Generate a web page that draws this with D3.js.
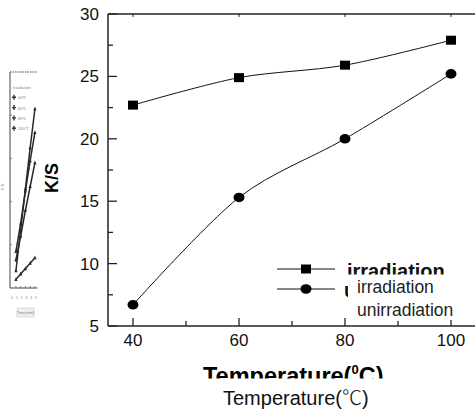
<!DOCTYPE html>
<html><head><meta charset="utf-8">
<script src="https://cdn.jsdelivr.net/npm/d3@7"></script>
<style>body{margin:0;background:#fff}svg{display:block}</style>
</head><body>
<script>
// ---- data ----
const temps = [40, 60, 80, 100];
const irradiation = [22.7, 24.9, 25.9, 27.9];
const unirradiation = [6.7, 15.3, 20.0, 25.2];
const xTicks = [40, 60, 80, 100];
const yTicks = [5, 10, 15, 20, 25, 30];
const seriesNames = ["irradiation", "unirradiation"];
// small embedded thumbnail chart on the left
const insetX = [1, 2, 3, 4, 5];
const insetA = [8, 27, 46, 65, 83];
const insetB = [17, 30, 45, 59, 72];
const insetC = [13, 24, 36, 47, 58];
const insetD = [4, 6.5, 9, 11.5, 14];
const insetLegend = ["Irradiation", "40℃", "60℃", "80℃", "100℃"];

const W = 475, H = 410;
const svg = d3.select("body").append("svg").attr("width", W).attr("height", H);
const F = "Arial, 'Liberation Sans', Helvetica, sans-serif";

// ---- main scales ----
const x = d3.scaleLinear().domain([40, 100]).range([133, 451]);
const y = d3.scaleLinear().domain([5, 30]).range([326, 14]);
const x0 = x.invert(108), x1 = x.invert(480);
const pL = x(x0), pR = x(x1), pT = y(30), pB = y(5);

const g = svg.append("g");
const ax = "#222";
// frame
g.append("line").attr("x1", pL).attr("x2", pL).attr("y1", pT).attr("y2", pB).attr("stroke", ax).attr("stroke-width", 1.5);
g.append("line").attr("x1", pL).attr("x2", pR).attr("y1", pB).attr("y2", pB).attr("stroke", ax).attr("stroke-width", 1.5);
g.append("line").attr("x1", pL).attr("x2", pR).attr("y1", pT).attr("y2", pT).attr("stroke", ax).attr("stroke-width", 1.3);

// y ticks (inward)
const yMinor = d3.range(7.5, 30, 5);
yTicks.forEach(v => g.append("line").attr("x1", pL).attr("x2", pL + 9).attr("y1", y(v)).attr("y2", y(v)).attr("stroke", ax).attr("stroke-width", 1.3));
yMinor.forEach(v => g.append("line").attr("x1", pL).attr("x2", pL + 5).attr("y1", y(v)).attr("y2", y(v)).attr("stroke", ax).attr("stroke-width", 1.3));
g.selectAll(".yl").data(yTicks).enter().append("text")
  .attr("x", 99).attr("y", d => y(d) + 6).attr("text-anchor", "end")
  .attr("font-family", F).attr("font-size", 17).attr("fill", "#111").text(d => d);

// x ticks (inward)
const xMinor = [50, 70, 90];
xTicks.forEach(v => {
  g.append("line").attr("x1", x(v)).attr("x2", x(v)).attr("y1", pB).attr("y2", pB - 8).attr("stroke", ax).attr("stroke-width", 1.3);
  g.append("line").attr("x1", x(v)).attr("x2", x(v)).attr("y1", pT).attr("y2", pT + 3).attr("stroke", ax).attr("stroke-width", 1);
});
xMinor.forEach(v => {
  g.append("line").attr("x1", x(v)).attr("x2", x(v)).attr("y1", pB).attr("y2", pB - 5).attr("stroke", ax).attr("stroke-width", 1.3);
});
g.selectAll(".xl").data(xTicks).enter().append("text")
  .attr("x", d => x(d)).attr("y", 346).attr("text-anchor", "middle")
  .attr("font-family", F).attr("font-size", 17).attr("fill", "#111").text(d => d);

// series
const line = d3.line().x((d, i) => x(temps[i])).y(d => y(d)).curve(d3.curveCardinal.tension(0.1));
g.append("path").attr("d", line(irradiation)).attr("fill", "none").attr("stroke", "#111").attr("stroke-width", 1);
g.append("path").attr("d", line(unirradiation)).attr("fill", "none").attr("stroke", "#111").attr("stroke-width", 1);
g.selectAll(".sq").data(irradiation).enter().append("rect")
  .attr("x", (d, i) => x(temps[i]) - 5).attr("y", d => y(d) - 4.5).attr("width", 10).attr("height", 9).attr("fill", "#000");
g.selectAll(".ci").data(unirradiation).enter().append("ellipse")
  .attr("cx", (d, i) => x(temps[i])).attr("cy", d => y(d)).attr("rx", 5.5).attr("ry", 4.8).attr("fill", "#000");

// legend
g.append("line").attr("x1", 277).attr("x2", 335).attr("y1", 269).attr("y2", 269).attr("stroke", "#111").attr("stroke-width", 1);
g.append("rect").attr("x", 301).attr("y", 264.5).attr("width", 10).attr("height", 9).attr("fill", "#000");
g.append("line").attr("x1", 277).attr("x2", 335).attr("y1", 289).attr("y2", 289).attr("stroke", "#111").attr("stroke-width", 1);
g.append("ellipse").attr("cx", 306).attr("cy", 289).attr("rx", 5.5).attr("ry", 4.8).attr("fill", "#000");
g.append("text").attr("x", 347).attr("y", 278).attr("font-family", F).attr("font-weight", "bold").attr("font-size", 20).attr("fill", "#111").text(seriesNames[0]);
g.append("text").attr("x", 344).attr("y", 297).attr("font-family", F).attr("font-weight", "bold").attr("font-size", 20).attr("fill", "#111").text(seriesNames[1]);
// overlay white box
g.append("rect").attr("x", 348).attr("y", 274.5).attr("width", 127).attr("height", 45.5).attr("fill", "#fff");
g.append("text").attr("x", 357).attr("y", 293).attr("font-family", F).attr("font-size", 17.5).attr("fill", "#222").text(seriesNames[0]);
g.append("text").attr("x", 357).attr("y", 316).attr("font-family", F).attr("font-size", 17.5).attr("fill", "#222").text(seriesNames[1]);

// y title
svg.append("text").attr("transform", "translate(58,178) rotate(-90)").attr("text-anchor", "middle")
  .attr("font-family", F).attr("font-weight", "bold").attr("font-size", 18).attr("fill", "#000").text("K/S");

// x title (bold, clipped) + plain
const xt = svg.append("text").attr("x", 203).attr("y", 384).attr("font-family", F).attr("font-weight", "bold").attr("font-size", 23.5).attr("fill", "#000");
xt.append("tspan").text("Temperature(");
xt.append("tspan").attr("font-size", 13).attr("dy", -10).text("0");
xt.append("tspan").attr("dy", 10).text("C)");
svg.append("rect").attr("x", 190).attr("y", 378.5).attr("width", 220).attr("height", 12).attr("fill", "#fff");
const xt2 = svg.append("text").attr("x", 223).attr("y", 405).attr("font-family", "Arial, 'Liberation Sans', sans-serif").attr("font-size", 20).attr("fill", "#111");
xt2.append("tspan").text("Temperature(");
xt2.append("tspan").attr("font-family", "'Noto Sans CJK KR', sans-serif").attr("font-weight", 300).text("℃");
xt2.append("tspan").text(")");

// ---- inset thumbnail ----
const ix = d3.scaleLinear().domain([-0.25, 5.5]).range([10, 37.3]);
const iy = d3.scaleLinear().domain([0, 100]).range([288, 72]);
const ig = svg.append("g").attr("opacity", 0.9);
ig.append("line").attr("x1", ix(-0.25)).attr("x2", ix(-0.25)).attr("y1", iy(100)).attr("y2", iy(0)).attr("stroke", "#333").attr("stroke-width", 1);
ig.append("line").attr("x1", ix(-0.25)).attr("x2", ix(5.5)).attr("y1", iy(0)).attr("y2", iy(0)).attr("stroke", "#333").attr("stroke-width", 1);
ig.append("line").attr("x1", ix(-0.25)).attr("x2", ix(5.5)).attr("y1", iy(100)).attr("y2", iy(100)).attr("stroke", "#333").attr("stroke-width", 1).attr("stroke-dasharray", "1.5,1");
[20, 40, 60, 80].forEach(v => ig.append("line").attr("x1", ix(-0.25)).attr("x2", ix(-0.25) + 2).attr("y1", iy(v)).attr("y2", iy(v)).attr("stroke", "#555").attr("stroke-width", 0.8));
insetX.forEach(v => ig.append("line").attr("x1", ix(v)).attr("x2", ix(v)).attr("y1", iy(0)).attr("y2", iy(0) - 2).attr("stroke", "#555").attr("stroke-width", 0.8));
ig.selectAll(".ixl").data([0].concat(insetX)).enter().append("text")
  .attr("x", d => ix(d) + 1).attr("y", 299).attr("text-anchor", "middle")
  .attr("font-family", F).attr("font-size", 4).attr("fill", "#888").text(d => d);
const il = d3.line().x((d, i) => ix(insetX[i])).y(d => iy(d));
[insetA, insetB, insetC, insetD].forEach(s => {
  ig.append("path").attr("d", il(s)).attr("fill", "none").attr("stroke", "#111").attr("stroke-width", 1.5);
  ig.selectAll(null).data(s).enter().append("path")
    .attr("d", (d, i) => `M${ix(insetX[i]) - 1.6},${iy(d) + 1.6}L${ix(insetX[i])},${iy(d) - 2.2}L${ix(insetX[i]) + 1.6},${iy(d) + 1.6}Z`)
    .attr("fill", "#111");
});
ig.selectAll(".ilg").data(insetLegend).enter().append("text")
  .attr("x", (d, i) => i === 0 ? 13 : 18).attr("y", (d, i) => i === 0 ? 89 : 89 + i * 10.3)
  .attr("font-family", F).attr("font-size", 4).attr("fill", "#777").text(d => d);
insetLegend.slice(1).forEach((d, i) => {
  const yy = 87 + (i + 1) * 10.3;
  ig.append("path").attr("d", `M12,${yy}L16,${yy}M14,${yy - 2.5}L14,${yy + 2.5}`).attr("stroke", "#222").attr("stroke-width", 1.4);
});
ig.append("rect").attr("x", 17).attr("y", 308).attr("width", 17).attr("height", 9).attr("fill", "#eee").attr("stroke", "#bbb").attr("stroke-width", 0.5);
ig.append("text").attr("x", 25.5).attr("y", 314).attr("text-anchor", "middle").attr("font-family", F).attr("font-size", 4).attr("fill", "#777").text("Time(min)");
ig.append("text").attr("x", 4).attr("y", 190).attr("font-family", F).attr("font-size", 4).attr("fill", "#888").attr("transform", "rotate(-90,4,190)").text("K/S");
</script>
</body></html>
